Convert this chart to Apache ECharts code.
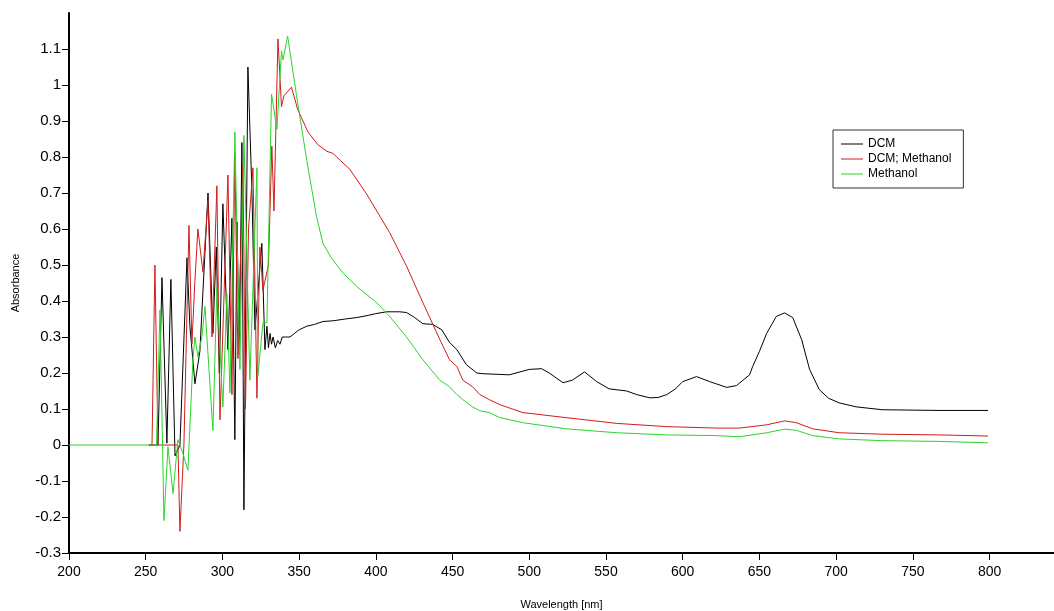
<!DOCTYPE html>
<html>
<head>
<meta charset="utf-8">
<script src="https://cdn.jsdelivr.net/npm/echarts@6/dist/echarts.min.js"></script>
<style>
  html, body { margin: 0; padding: 0; background: #fff; }
  #chart { width: 1054px; height: 611px; }
</style>
</head>
<body>
<div id="chart"></div>
<script>
// wavelength [nm] / absorbance
var dcmNm = [252, 258, 260.6, 263.8, 266.4, 269.1, 272.3, 276.9, 278.8, 282.1, 285.3, 290.6, 293.8, 296, 298, 300.3, 303.6, 306.2, 308.1,
    309.5, 311, 312.7, 314.0, 316.6, 319.2, 321.2, 325.7, 327.7, 329, 330, 331, 332, 333, 334.5, 336, 337.5, 339, 341, 344, 347, 350,
    355, 360, 365.5, 372, 380, 387.6, 395, 400, 407, 415.6, 420, 425, 430.6, 437, 443, 448, 452.8, 459, 465.8, 469.7, 487,
    500, 508, 513, 518, 522, 528, 536, 544, 552, 563.5, 570, 578.5, 584, 589.6, 595, 600, 609, 617.6, 628.7, 635, 643.6,
    645.6, 650, 654.7, 661, 666.4, 671.7, 677.5, 682.7, 689, 695, 702, 713, 730, 767, 799];
var dcmAbs = [0, 0, 0.465, 0.005, 0.46, -0.03, 0.0, 0.52, 0.33, 0.17, 0.26, 0.70, 0.31, 0.55, 0.2, 0.67, 0.265, 0.63, 0.015,
    0.62, 0.25, 0.84, -0.18, 1.05, 0.71, 0.32, 0.56, 0.265, 0.33, 0.27, 0.31, 0.28, 0.30, 0.27, 0.29, 0.28, 0.30, 0.30, 0.30, 0.31, 0.32,
    0.33, 0.335, 0.343, 0.345, 0.35, 0.354, 0.36, 0.365, 0.37, 0.37, 0.368, 0.355, 0.337, 0.335, 0.32, 0.285, 0.265, 0.223, 0.2, 0.198, 0.195,
    0.21, 0.212, 0.20, 0.185, 0.173, 0.18, 0.203, 0.176, 0.156, 0.15, 0.14, 0.131, 0.132, 0.14, 0.155, 0.176, 0.19, 0.176, 0.16, 0.165, 0.195,
    0.218, 0.26, 0.31, 0.357, 0.367, 0.354, 0.293, 0.21, 0.154, 0.13, 0.117, 0.106, 0.098, 0.096, 0.096];

var mixNm = [252, 254.1, 256.0, 258.0, 271, 272.3, 274.9, 278.2, 280.1, 282, 284.0, 287.3, 290.6, 293.2, 296.4, 298.4, 303.6,
    306.2, 308.1, 310.1, 313.4, 315, 317, 319.9, 322.5, 324.4, 326.4, 330, 332.2, 333.6, 336.2, 338.5, 340.1, 345, 349,
    355.7, 362, 368, 372, 377, 383, 394, 409, 420, 430.6, 441.7, 448, 452.8, 456.7, 463, 467.8, 474, 480.8, 495.8, 524,
    557, 589.6, 622, 637, 654.7, 666.4, 674, 684.7, 702, 730, 767, 799];
var mixAbs = [0, 0, 0.50, 0.0, 0.0, -0.24, 0.0, 0.61, 0.28, 0.45, 0.60, 0.48, 0.68, 0.30, 0.72, 0.07, 0.75,
    0.14, 0.81, 0.24, 0.78, 0.10, 0.60, 0.77, 0.13, 0.55, 0.43, 0.50, 0.83, 0.65, 1.128, 0.94, 0.97, 0.994, 0.933,
    0.87, 0.835, 0.816, 0.81, 0.79, 0.766, 0.697, 0.59, 0.497, 0.396, 0.293, 0.237, 0.218, 0.18, 0.162, 0.14, 0.126, 0.112, 0.09, 0.076,
    0.06, 0.051, 0.047, 0.047, 0.056, 0.067, 0.062, 0.045, 0.034, 0.03, 0.028, 0.025];

var meohNm = [200, 257, 259.3, 261.9, 264.5, 267.8, 271.0, 274, 277.5, 280.8, 282.1, 284.0, 286.6, 288.6, 293.8, 296.4, 300.3,
    302.9, 304.9, 308.1, 311.4, 314.0, 317.9, 322.5, 323.1, 326.4, 329, 332.0, 335.5, 338.5, 339.5, 342.5, 348.3, 352.4, 355,
    361.3, 365.5, 371, 378.5, 387.6, 400.7, 409, 420, 430.6, 441.7, 448, 452.8, 456.7, 463, 467.8, 474, 480.8, 495.8, 524,
    557, 589.6, 622, 637, 654.7, 666.4, 674, 684.7, 702, 730, 767, 799];
var meohAbs = [0, 0, 0.375, -0.21, -0.005, -0.135, 0.015, -0.02, -0.07, 0.24, 0.30, 0.245, 0.30, 0.385, 0.04, 0.44, 0.106,
    0.42, 0.145, 0.87, 0.21, 0.86, 0.18, 0.77, 0.19, 0.34, 0.34, 0.975, 0.877, 1.094, 1.07, 1.136, 0.97, 0.86, 0.79,
    0.635, 0.56, 0.52, 0.478, 0.44, 0.395, 0.357, 0.30, 0.237, 0.18, 0.162, 0.14, 0.126, 0.106, 0.095, 0.09, 0.076, 0.062, 0.045,
    0.034, 0.028, 0.026, 0.023, 0.034, 0.044, 0.041, 0.026, 0.017, 0.012, 0.01, 0.006];

var xTicks = [200, 250, 300, 350, 400, 450, 500, 550, 600, 650, 700, 750, 800];
var yTicks = [-0.3, -0.2, -0.1, 0, 0.1, 0.2, 0.3, 0.4, 0.5, 0.6, 0.7, 0.8, 0.9, 1, 1.1];

function pairs(xs, ys) {
    var out = [];
    for (var i = 0; i < xs.length; i++) {
        out.push([xs[i], ys[i]]);
    }
    return out;
}

var font = "'Liberation Sans', Arial, sans-serif";

var myChart = echarts.init(document.getElementById('chart'));
myChart.setOption({
    animation: false,
    backgroundColor: '#fff',
    grid: {
        left: 69,
        right: 0,
        top: 13,
        bottom: 58,
        outerBoundsMode: 'none'
    },
    legend: {
        orient: 'vertical',
        left: 833,
        top: 130,
        icon: 'rect',
        itemWidth: 22,
        itemHeight: 1,
        itemGap: 3,
        itemTextGap: 5,
        padding: [8, 12, 8, 8],
        borderColor: '#333',
        borderWidth: 1,
        backgroundColor: '#fff',
        textStyle: { fontFamily: font, fontSize: 12, color: '#000' },
        data: ['DCM', 'DCM; Methanol', 'Methanol']
    },
    xAxis: {
        type: 'value',
        min: 200,
        max: 842,
        interval: 50,
        name: 'Wavelength [nm]',
        nameLocation: 'middle',
        nameGap: 46,
        nameTextStyle: { fontFamily: font, fontSize: 11, color: '#000' },
        splitLine: { show: false },
        axisLine: { onZero: false, lineStyle: { color: '#000', width: 2 } },
        axisTick: { length: 7, customValues: xTicks, lineStyle: { color: '#000', width: 1 } },
        axisLabel: { customValues: xTicks, margin: 12, fontFamily: font, fontSize: 14, color: '#000' }
    },
    yAxis: {
        type: 'value',
        min: -0.3,
        max: 1.2,
        interval: 0.1,
        name: 'Absorbance',
        nameLocation: 'middle',
        nameGap: 48,
        nameTextStyle: { fontFamily: font, fontSize: 11, color: '#000' },
        splitLine: { show: false },
        axisLine: { show: true, onZero: false, lineStyle: { color: '#000', width: 2 } },
        axisTick: { show: true, length: 7, customValues: yTicks, lineStyle: { color: '#000', width: 1 } },
        axisLabel: { customValues: yTicks, margin: 8, fontFamily: font, fontSize: 15, color: '#000' }
    },
    series: [
        {
            name: 'DCM',
            type: 'line',
            symbol: 'none',
            data: pairs(dcmNm, dcmAbs),
            lineStyle: { color: '#000000', width: 1 },
            itemStyle: { color: '#000000' }
        },
        {
            name: 'DCM; Methanol',
            type: 'line',
            symbol: 'none',
            data: pairs(mixNm, mixAbs),
            lineStyle: { color: '#d01c1c', width: 1 },
            itemStyle: { color: '#d01c1c' }
        },
        {
            name: 'Methanol',
            type: 'line',
            symbol: 'none',
            data: pairs(meohNm, meohAbs),
            lineStyle: { color: '#2cd42c', width: 1 },
            itemStyle: { color: '#2cd42c' }
        }
    ]
});
</script>
</body>
</html>
